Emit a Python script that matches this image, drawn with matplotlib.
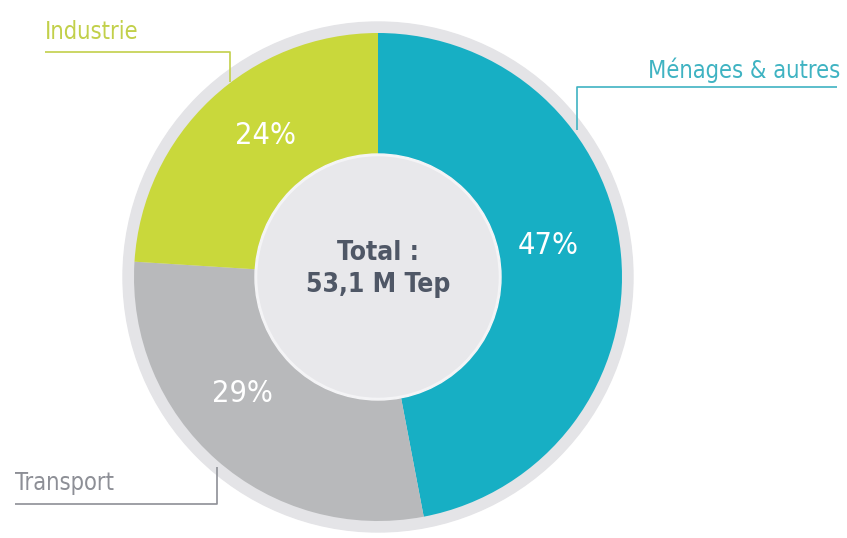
import matplotlib
matplotlib.use("Agg")
import matplotlib.pyplot as plt
from matplotlib import font_manager
from matplotlib.patches import Circle

# Final energy consumption by sector
sectors = ["Ménages & autres", "Transport", "Industrie"]
shares = [47, 29, 24]
total_label = "Total :\n53,1 M Tep"

colors = ["#17afc4", "#b8b9bb", "#c9d83b"]
label_colors = ["#3fb3c2", "#8d8f96", "#c2d04a"]

# pick a narrow face if one is installed
names = {f.name for f in font_manager.fontManager.ttflist}
narrow = None
for cand in ["Liberation Sans Narrow", "DejaVu Sans Condensed"]:
    if cand in names:
        narrow = cand
        break
if narrow is None:
    narrow = "DejaVu Sans"
stretch = "condensed"

W, H = 847, 538
fig = plt.figure(figsize=(W / 100, H / 100), dpi=100)
ax = fig.add_axes([0, 0, 1, 1])

cx, cy = 378, 277
# outer halo ring
ax.add_patch(Circle((cx, cy), 255, color="#e4e4e7", zorder=0))

# y axis runs downwards, so start at -90 and go counter-clockwise in data
# space to sweep clockwise from the top on screen
wedges, _ = ax.pie(shares, colors=colors, startangle=-90, counterclock=True,
                   center=(cx, cy), radius=244,
                   wedgeprops=dict(linewidth=0))
for w in wedges:
    w.set_zorder(1)

# centre disc
ax.add_patch(Circle((cx, cy), 123, color="#f4f4f6", zorder=2))
ax.add_patch(Circle((cx, cy), 120, color="#e8e8eb", zorder=3))

ax.set_xlim(0, W)
ax.set_ylim(H, 0)
ax.set_aspect("equal")
ax.axis("off")

ax.text(cx, cy - 8, total_label, ha="center", va="center", fontsize=19,
        fontweight="bold", color="#4f5766", family=narrow, fontstretch=stretch,
        linespacing=1.35, zorder=5)

# percentage labels inside the ring
pct_pos = [(548, 245), (242, 393), (265, 135)]
for val, (x, y) in zip(shares, pct_pos):
    ax.text(x, y, f"{val}%", ha="center", va="center", fontsize=22,
            color="white", family=narrow, fontstretch=stretch, zorder=6)

# sector names with leader lines
name_pos = [(840, 70, "right"), (15, 483, "left"), (45, 32, "left")]
leaders = [
    [(837, 87), (577, 87), (577, 130)],
    [(15, 504), (217, 504), (217, 467)],
    [(45, 52), (230, 52), (230, 82)],
]
for name, (x, y, ha), pts, col in zip(sectors, name_pos, leaders, label_colors):
    ax.text(x, y, name, ha=ha, va="center", fontsize=17, color=col,
            family=narrow, fontstretch=stretch, fontweight="light", zorder=6)
    xs, ys = zip(*pts)
    ax.plot(xs, ys, color=col, lw=1.2, zorder=6, solid_capstyle="butt")

fig.savefig("out.png", dpi=100, facecolor="white")
